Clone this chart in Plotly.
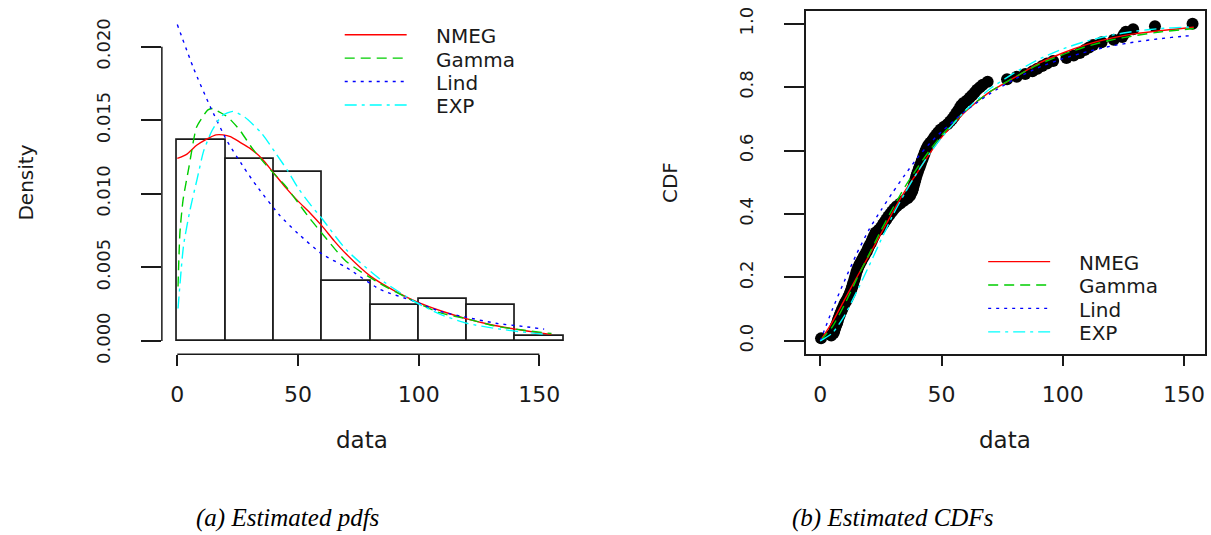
import plotly.graph_objects as go

# ---------------- data: left panel (histogram + fitted densities) ----------------
bin_mid = [10, 30, 50, 70, 90, 110, 130, 150]
bin_width = 20
hist_density = [0.01368, 0.01235, 0.01151, 0.00407, 0.00245, 0.00283, 0.00245, 0.00037]

nmeg_x = [0, 4, 8, 12, 16, 19, 22, 26, 30, 35, 40, 45, 50, 55, 60, 65, 70, 80, 90, 100, 110, 120, 130, 140, 150, 155]
nmeg_y = [0.0124, 0.0127, 0.0133, 0.0137, 0.0140, 0.0140, 0.01388, 0.0135, 0.0131, 0.0124, 0.0114, 0.0104,
          0.0095, 0.0087, 0.0078, 0.0068, 0.0059, 0.0044, 0.0034, 0.0026, 0.0020, 0.0015, 0.0011, 0.0008,
          0.00055, 0.00045]

gamma_x = [0.3, 1.1, 2.4, 4.8, 7.9, 10, 12.7, 15, 17, 21, 26, 31, 36, 41, 45, 50, 55, 60, 70, 84, 98, 109,
           120, 132, 145, 155]
gamma_y = [0.0037, 0.0074, 0.0096, 0.0118, 0.0145, 0.0151, 0.0157, 0.0158, 0.0156, 0.0152, 0.0143, 0.0131,
           0.0121, 0.0112, 0.0105, 0.0094, 0.0083, 0.0073, 0.0054, 0.0039, 0.0027, 0.0019, 0.0015, 0.0010,
           0.0007, 0.0005]

lind_x = [0, 6.8, 13.7, 20.6, 27.5, 33, 42.6, 50, 60, 70, 84, 98, 109, 120, 132, 145, 152]
lind_y = [0.0215, 0.0185, 0.0159, 0.0136, 0.0118, 0.0105, 0.0085, 0.0073, 0.0059, 0.0050, 0.0035, 0.0027,
          0.0020, 0.0016, 0.0012, 0.00095, 0.0008]

exp_x = [0.3, 2.6, 5.4, 8.2, 10.9, 14.4, 18.5, 23, 28, 35, 41, 46, 50, 55, 60, 70, 84, 98, 109, 120, 132,
         145, 152]
exp_y = [0.0022, 0.0065, 0.0090, 0.0110, 0.0129, 0.0143, 0.0153, 0.0156, 0.0152, 0.0141, 0.0127, 0.0115,
         0.0104, 0.0093, 0.0083, 0.0062, 0.0042, 0.0027, 0.0018, 0.0012, 0.00084, 0.00057, 0.00046]

# ---------------- data: right panel (empirical CDF + fitted CDFs) ----------------
ecdf_x = [0.3, 4.5, 5.5, 5.8, 6.2, 6.6, 7.0, 7.3, 7.7, 8.1,
          8.6, 9.0, 9.5, 10.0, 10.6, 11.2, 11.7, 12.2, 12.6, 13.0,
          13.3, 13.6, 14.0, 14.3, 14.6, 14.9, 15.3, 15.7, 16.2, 16.8,
          17.4, 18.0, 18.6, 19.2, 19.7, 20.2, 20.8, 21.3, 21.8, 22.3,
          22.8, 24.0, 25.0, 25.8, 26.5, 27.2, 28.0, 28.8, 29.6, 30.5,
          31.5, 33.0, 34.5, 36.0, 37.0, 37.6, 38.0, 38.3, 38.6, 38.9,
          39.2, 39.5, 39.8, 40.2, 40.6, 41.0, 41.4, 41.8, 42.2, 42.6,
          43.0, 43.4, 43.9, 44.5, 45.3, 46.2, 47.0, 47.8, 48.6, 49.6,
          51.0, 52.4, 53.5, 54.4, 55.2, 56.0, 56.7, 57.4, 58.0, 59.0,
          60.5, 61.6, 62.6, 63.6, 64.6, 65.8, 67.0, 69.0, 77.0, 81.0,
          84.5, 87.5, 89.5, 91.5, 93.5, 96.0, 101.5, 104.5, 107.0, 109.0,
          110.8, 112.5, 116.0, 121.0, 124.5, 125.2, 126.0, 129.0, 138.0, 153.5]
ecdf_y = [0.008, 0.017, 0.025, 0.033, 0.042, 0.050, 0.058, 0.067, 0.075, 0.083,
          0.092, 0.100, 0.108, 0.117, 0.125, 0.133, 0.142, 0.150, 0.158, 0.167,
          0.175, 0.183, 0.192, 0.200, 0.208, 0.217, 0.225, 0.233, 0.242, 0.250,
          0.258, 0.267, 0.275, 0.283, 0.292, 0.300, 0.308, 0.317, 0.325, 0.333,
          0.342, 0.350, 0.358, 0.367, 0.375, 0.383, 0.392, 0.400, 0.408, 0.417,
          0.425, 0.433, 0.442, 0.450, 0.458, 0.467, 0.475, 0.483, 0.492, 0.500,
          0.508, 0.517, 0.525, 0.533, 0.542, 0.550, 0.558, 0.567, 0.575, 0.583,
          0.592, 0.600, 0.608, 0.617, 0.625, 0.633, 0.642, 0.650, 0.658, 0.667,
          0.675, 0.683, 0.692, 0.700, 0.708, 0.717, 0.725, 0.733, 0.742, 0.750,
          0.758, 0.767, 0.775, 0.783, 0.792, 0.800, 0.808, 0.817, 0.825, 0.833,
          0.842, 0.850, 0.858, 0.867, 0.875, 0.883, 0.892, 0.900, 0.908, 0.917,
          0.925, 0.933, 0.942, 0.950, 0.958, 0.967, 0.975, 0.983, 0.992, 1.000]

cdf_x = [0, 5, 10, 15, 20, 25, 30, 35, 40, 45, 50, 60, 70, 80, 90, 100, 110, 120, 130, 140, 150, 154]
nmeg_cdf = [0.0, 0.06, 0.13, 0.2, 0.268, 0.338, 0.408, 0.474, 0.531, 0.59, 0.642, 0.724, 0.786, 0.83,
            0.875, 0.908, 0.935, 0.955, 0.969, 0.978, 0.986, 0.989]
gamma_cdf = [0.0, 0.045, 0.115, 0.195, 0.272, 0.348, 0.42, 0.487, 0.546, 0.6, 0.648, 0.727, 0.786, 0.831,
             0.872, 0.903, 0.929, 0.949, 0.963, 0.974, 0.982, 0.985]
lind_cdf = [0.0, 0.1, 0.19, 0.275, 0.35, 0.412, 0.47, 0.525, 0.577, 0.622, 0.66, 0.726, 0.78, 0.825,
            0.862, 0.89, 0.912, 0.93, 0.943, 0.953, 0.961, 0.963]
exp_cdf = [0.0, 0.025, 0.08, 0.155, 0.235, 0.318, 0.398, 0.468, 0.532, 0.59, 0.641, 0.728, 0.795, 0.845,
           0.888, 0.921, 0.946, 0.964, 0.977, 0.985, 0.989, 0.99]

series_names = ["NMEG", "Gamma", "Lind", "EXP"]
pdf_tick_vals = [0, 0.005, 0.010, 0.015, 0.020]
cdf_tick_vals = [0, 0.2, 0.4, 0.6, 0.8, 1.0]
x_tick_vals = [0, 50, 100, 150]

# ---------------- styling ----------------
W, H = 1211, 535
FONT = "DejaVu Sans"
INK = "#1a1a1a"
colors = ["#FF0000", "#00CD00", "#0000FF", "#00FFFF"]
dashes = ["solid", "10px,6px", "3px,5px", "12px,5px,3px,5px"]


def px(x):
    return x / W


def py(y):
    return 1 - y / H


fig = go.Figure()

# histogram bars
fig.add_trace(go.Bar(
    x=bin_mid, y=hist_density, width=bin_width,
    marker=dict(color="white", line=dict(color=INK, width=1.7)),
    xaxis="x", yaxis="y", showlegend=False, hoverinfo="skip"))

pdf_data = [(nmeg_x, nmeg_y), (gamma_x, gamma_y), (lind_x, lind_y), (exp_x, exp_y)]
for name, (xs, ys), c, d in zip(series_names, pdf_data, colors, dashes):
    fig.add_trace(go.Scatter(
        x=xs, y=ys, mode="lines", name=name, legendgroup=name,
        line=dict(color=c, width=1.4, dash=d, shape="spline", smoothing=0.6),
        xaxis="x", yaxis="y", showlegend=False))

# empirical CDF points
fig.add_trace(go.Scatter(
    x=ecdf_x, y=ecdf_y, mode="markers",
    marker=dict(color="black", size=12, line=dict(width=0)),
    xaxis="x2", yaxis="y2", showlegend=False, hoverinfo="skip"))

cdf_data = [nmeg_cdf, gamma_cdf, lind_cdf, exp_cdf]
for name, ys, c, d in zip(series_names, cdf_data, colors, dashes):
    fig.add_trace(go.Scatter(
        x=cdf_x, y=ys, mode="lines", name=name, legendgroup=name,
        line=dict(color=c, width=1.4, dash=d, shape="spline", smoothing=0.6),
        xaxis="x2", yaxis="y2", showlegend=False))

tick_common = dict(showgrid=False, zeroline=False, ticks="outside", tickwidth=1.5, tickcolor=INK)

# ---------------- R-style legends (line sample + label) ----------------
legend_shapes = []
legend_annots = []
# (line x0, line x1, text x, row y positions) for each panel, in pixels
legend_boxes = [
    (345, 407, 434, [31.5, 55.5, 79.5, 103.5]),
    (989, 1051, 1078, [264, 288, 312, 336]),
]
for lx0, lx1, tx, rows in legend_boxes:
    for name, c, d, ry in zip(series_names, colors, dashes, rows):
        legend_shapes.append(dict(type="line", xref="paper", yref="paper",
                                  x0=px(lx0), x1=px(lx1), y0=py(ry), y1=py(ry),
                                  line=dict(color=c, width=1.4, dash=d)))
        legend_annots.append(dict(text=name, x=px(tx), y=py(ry + 1.5), xref="paper", yref="paper",
                                  xanchor="left", yanchor="middle", showarrow=False,
                                  font=dict(family=FONT, size=20, color=INK)))

axis_shapes = [
    # R-style axis lines spanning only the tick range (left panel)
    dict(type="line", xref="x", yref="paper", x0=x_tick_vals[0], x1=x_tick_vals[-1],
         y0=py(359), y1=py(359), line=dict(color=INK, width=1.5)),
    dict(type="line", xref="paper", yref="y", x0=px(162), x1=px(162),
         y0=pdf_tick_vals[0], y1=pdf_tick_vals[-1], line=dict(color=INK, width=1.5)),
]

title_annots = [
    dict(text="Density", x=px(26), y=py(183), textangle=-90, font=dict(family=FONT, size=20, color=INK)),
    dict(text="data", x=px(362), y=py(447), font=dict(family=FONT, size=23, color=INK)),
    dict(text="CDF", x=px(670), y=py(183), textangle=-90, font=dict(family=FONT, size=20, color=INK)),
    dict(text="data", x=px(1006), y=py(447), font=dict(family=FONT, size=23, color=INK)),
    dict(text="(a) Estimated pdfs", x=px(288), y=py(527),
         font=dict(family="Liberation Serif", size=25, color="black", style="italic")),
    dict(text="(b) Estimated CDFs", x=px(893), y=py(527),
         font=dict(family="Liberation Serif", size=25, color="black", style="italic")),
]
for a in title_annots:
    a.update(xref="paper", yref="paper", xanchor="center", yanchor="middle", showarrow=False)

fig.update_layout(
    width=W, height=H,
    margin=dict(l=0, r=0, t=0, b=0),
    paper_bgcolor="white", plot_bgcolor="white",
    font=dict(family=FONT, color=INK),
    showlegend=False,
    xaxis=dict(domain=[px(162), px(579.4)], range=[-6.4, 166.4], anchor="y",
               tickvals=x_tick_vals, ticklen=11, showline=False,
               tickfont=dict(family=FONT, size=22, color=INK), ticklabelstandoff=9,
               **tick_common),
    yaxis=dict(domain=[py(359), py(3)], range=[-0.000908, 0.0227], anchor="x",
               tickvals=pdf_tick_vals, tickformat=".3f", tickangle=-90, ticklen=20, showline=False,
               tickfont=dict(family=FONT, size=18, color=INK), ticklabelstandoff=24,
               **tick_common),
    xaxis2=dict(domain=[px(806.7), px(1205.5)], range=[-5.89, 158.43], anchor="y2",
                tickvals=x_tick_vals, ticklen=11, showline=True, mirror=True,
                linecolor=INK, linewidth=1.5,
                tickfont=dict(family=FONT, size=22, color=INK), ticklabelstandoff=9,
                **tick_common),
    yaxis2=dict(domain=[py(358.3), py(7.3)], range=[-0.04, 1.04], anchor="x2",
                tickvals=cdf_tick_vals, tickformat=".1f", tickangle=-90, ticklen=20,
                showline=True, mirror=True, linecolor=INK, linewidth=1.5,
                tickfont=dict(family=FONT, size=18, color=INK), ticklabelstandoff=24,
                **tick_common),
    bargap=0,
    shapes=axis_shapes + legend_shapes,
    annotations=title_annots + legend_annots,
)

fig.write_html("out.html")
